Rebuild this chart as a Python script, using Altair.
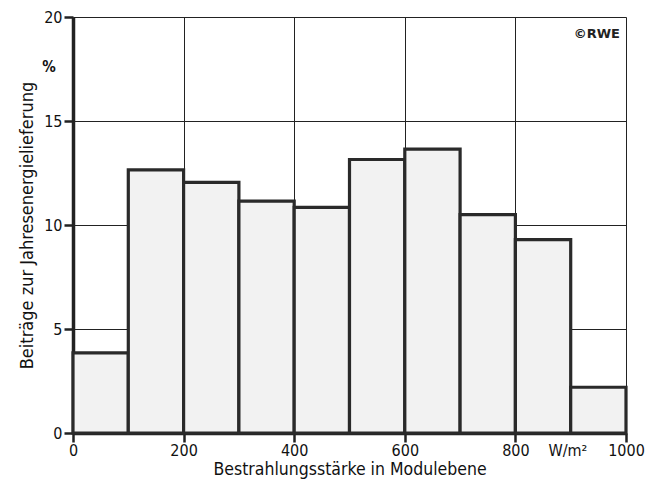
import altair as alt
import pandas as pd

bin_start = [0, 100, 200, 300, 400, 500, 600, 700, 800, 900]
bin_end = [100, 200, 300, 400, 500, 600, 700, 800, 900, 1000]
anteil = [3.85, 12.65, 12.05, 11.15, 10.85, 13.15, 13.65, 10.5, 9.3, 2.2]

x_ticks = [0, 200, 400, 600, 800, 1000]
y_ticks = [0, 5, 10, 15, 20]

FONT = "DejaVu Sans Condensed, Liberation Sans Narrow, DejaVu Sans, sans-serif"

df = pd.DataFrame({"start": bin_start, "end": bin_end, "wert": anteil})

xscale = alt.Scale(domain=[0, 1000], nice=False, zero=True)
yscale = alt.Scale(domain=[0, 20], nice=False)

bars = alt.Chart(df).mark_rect(
    fill="#f2f2f2", stroke="#2a2a2a", strokeWidth=3.2
).encode(
    x=alt.X("start:Q", scale=xscale,
            axis=alt.Axis(values=x_ticks, title="Bestrahlungsstärke in Modulebene",
                          format="d", labelFlush=False,
                          grid=True, gridColor="#222", gridWidth=1,
                          domainColor="#222", domainWidth=3.5,
                          tickColor="#222", tickSize=9, tickWidth=2.5,
                          labelFont=FONT, labelFontSize=16, labelColor="#111",
                          labelPadding=0, titleFont=FONT, titleFontSize=17.5,
                          titleFontWeight="normal", titleColor="#111", titlePadding=2)),
    x2="end:Q",
    y=alt.Y("wert:Q", scale=yscale,
            axis=alt.Axis(values=y_ticks, title="Beiträge zur Jahresenergielieferung",
                          labelFlush=False,
                          grid=True, gridColor="#222", gridWidth=1,
                          domainColor="#222", domainWidth=3.5,
                          tickColor="#222", tickSize=9, tickWidth=2.5,
                          labelFont=FONT, labelFontSize=16, labelColor="#111",
                          labelPadding=2, titleFont=FONT, titleFontSize=18,
                          titleFontWeight="normal", titleColor="#111", titlePadding=7)),
    y2=alt.datum(0),
)

ann_df = pd.DataFrame({"x": [0, 895, 1000], "y": [17.6, 0, 19.2],
                       "t": ["%", "W/m²", "©RWE"]})

pct = alt.Chart(ann_df[ann_df.t == "%"]).mark_text(
    font=FONT, fontSize=15, fontWeight="bold", color="#111", dx=-24
).encode(x=alt.X("x:Q", scale=xscale), y=alt.Y("y:Q", scale=yscale), text="t:N")

unit = alt.Chart(ann_df[ann_df.t == "W/m²"]).mark_text(
    font=FONT, fontSize=16, color="#111", dy=18, baseline="middle"
).encode(x=alt.X("x:Q", scale=xscale), y=alt.Y("y:Q", scale=yscale), text="t:N")

rwe = alt.Chart(ann_df[ann_df.t == "©RWE"]).mark_text(
    font="DejaVu Sans, sans-serif", fontSize=13, fontWeight="bold", color="#222",
    align="right", dx=-6
).encode(x=alt.X("x:Q", scale=xscale), y=alt.Y("y:Q", scale=yscale), text="t:N")

chart = alt.layer(bars, pct, unit, rwe).properties(
    width=553, height=416,
    autosize=alt.AutoSizeParams(type="none"),
    padding={"left": 65, "top": 9, "right": 24, "bottom": 56},
).configure_view(
    stroke="#222", strokeWidth=2
).configure(background="white")

chart.save("out.html", embed_options={"renderer": "svg", "actions": False})
